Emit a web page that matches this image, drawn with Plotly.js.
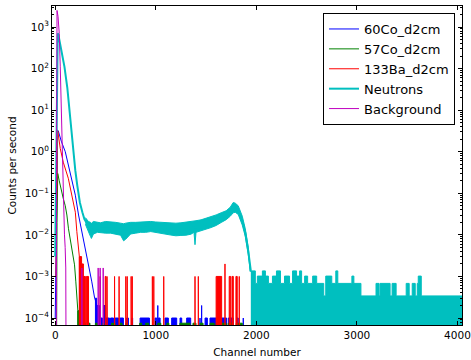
<!DOCTYPE html>
<html><head><meta charset="utf-8">
<script src="https://cdn.plot.ly/plotly-3.0.1.min.js"></script>
<style>html,body{margin:0;padding:0;background:#fff}#chart{width:471px;height:360px}</style>
</head><body><div id="chart"></div>
<script>
// ---------- data (channel, counts per second) ----------
// 60Co_d2cm
const co60Ch   = [0, 8, 16, 24, 30, 60, 100, 150, 200, 232, 265, 298, 331, 364, 390, 414, 428];
const co60Rate = [1e-4, 0.01, 0.5, 3.3, 3.2, 1.8, 1.0, 0.32, 0.09, 0.03, 0.012, 0.0049, 0.0021, 0.00074, 0.00032, 0.0002, 0];
const co60RunStart = [400, 415, 440, 480, 505, 550, 596, 645, 711, 760, 844, 993, 1020, 1026, 1092, 1158, 1241, 1307, 1440, 1456, 1490, 1539, 1622, 1655, 1721, 1804, 1870];
const co60RunEnd   = [412, 440, 470, 500, 540, 580, 629, 678, 728, 770, 937, 1010, 1020, 1043, 1125, 1208, 1258, 1347, 1440, 1456, 1513, 1599, 1638, 1704, 1771, 1820, 1870];
const co60RunRate  = [3e-4, 2e-4, 1e-4, 2e-4, 1e-4, 1e-4, 1e-4, 1e-4, 1e-4, 1e-4, 1e-4, 1e-4, 2e-4, 1e-4, 1e-4, 1e-4, 1e-4, 1e-4, 1e-4, 2e-4, 1e-4, 1e-4, 1e-4, 1e-4, 1e-4, 1e-4, 1e-4];

// 57Co_d2cm
const co57Ch   = [0, 10, 18, 25, 40, 60, 80, 100, 116, 132, 165, 192, 205, 215, 225, 232];
const co57Rate = [0, 0, 0.02, 0.3, 0.2, 0.11, 0.075, 0.05, 0.03, 0.014, 0.0049, 0.0019, 0.00074, 0.00032, 0.00015, 0];
const co57RunStart = [225, 255, 330, 400, 470, 560, 645, 700, 840, 900, 1020, 1110, 1240, 1370, 1440, 1540, 1600, 1650, 1720, 1800];
const co57RunEnd   = [250, 300, 345, 420, 485, 595, 665, 720, 860, 930, 1050, 1130, 1340, 1400, 1470, 1580, 1620, 1700, 1760, 1860];
const co57RunRate  = [1.5e-4, 7.5e-5, 7.5e-5, 7.5e-5, 7.5e-5, 7.5e-5, 7.5e-5, 7.5e-5, 7.5e-5, 7.5e-5, 7.5e-5, 7.5e-5, 7.5e-5, 7.5e-5, 7.5e-5, 7.5e-5, 7.5e-5, 7.5e-5, 7.5e-5, 7.5e-5];

// 133Ba_d2cm
const ba133Ch   = [0, 8, 14, 18, 25, 50, 80, 130, 165, 200, 215, 230, 240, 242];
const ba133Rate = [1e-3, 1e-3, 0.05, 1, 3.2, 1.2, 0.56, 0.23, 0.09, 0.035, 0.012, 0.0049, 0.003, 0];
const ba133RunStart = [240, 265, 283, 310, 447, 497, 515, 590, 635, 702, 716, 755, 766, 966, 980, 1079, 1390, 1423, 1600, 1688, 1730, 1758, 1797, 1830];
const ba133RunEnd   = [262, 280, 300, 331, 452, 505, 520, 592, 637, 704, 718, 758, 768, 969, 983, 1081, 1392, 1425, 1655, 1690, 1745, 1771, 1810, 1832];
const ba133RunRate  = [3e-3, 2e-3, 1e-3, 1e-3, 1e-3, 1e-3, 1e-3, 1e-3, 1e-3, 1e-3, 1e-3, 1e-3, 1e-3, 1e-3, 1e-3, 1e-3, 1e-3, 1e-3, 1e-3, 2e-3, 1e-3, 1e-3, 1e-3, 1e-3];

// Neutrons
const nCh   = [0, 4, 8, 12, 16, 20, 25, 30, 40, 60, 92, 120, 142, 160, 175, 200, 220, 245, 270, 290, 320, 350, 450, 550, 650, 700, 800, 900, 1000, 1100, 1200, 1300, 1400, 1500, 1600, 1700, 1770, 1820, 1860, 1890, 1920, 1945];
const nRate = [0.003, 0.02, 0.5, 20, 150, 450, 700, 680, 500, 250, 110, 35, 10, 3, 1.2, 0.35, 0.15, 0.06, 0.035, 0.024, 0.018, 0.0135, 0.0145, 0.0145, 0.0132, 0.0117, 0.014, 0.0148, 0.0146, 0.0138, 0.0129, 0.0133, 0.0151, 0.0178, 0.0219, 0.0292, 0.0447, 0.039, 0.0216, 0.0112, 0.004, 0.00136];
// spread of the noisy neutron plateau (upper / lower edge)
const nBandCh = [300, 330, 350, 360, 380, 420, 450, 500, 550, 600, 650, 680, 700, 750, 800, 850, 900, 950, 1000, 1050, 1100, 1150, 1200, 1250, 1300, 1350, 1380, 1390, 1400, 1450, 1500, 1550, 1600, 1650, 1700, 1740, 1770, 1790, 1820, 1860, 1890, 1920, 1940];
const nBandHi = [0.026, 0.021, 0.020, 0.019, 0.021, 0.020, 0.0195, 0.021, 0.0209, 0.020, 0.0191, 0.0185, 0.0191, 0.020, 0.020, 0.0205, 0.0209, 0.021, 0.0204, 0.020, 0.020, 0.0195, 0.0191, 0.0195, 0.020, 0.0205, 0.0215, 0.0215, 0.0219, 0.023, 0.0251, 0.027, 0.0302, 0.034, 0.038, 0.046, 0.060, 0.058, 0.050, 0.0282, 0.0141, 0.0050, 0.0018];
const nBandLo = [0.018, 0.012, 0.0092, 0.0082, 0.0105, 0.0115, 0.0115, 0.011, 0.011, 0.0105, 0.0098, 0.0072, 0.0078, 0.0105, 0.011, 0.0115, 0.0115, 0.012, 0.0115, 0.0108, 0.0104, 0.0099, 0.0095, 0.0097, 0.0098, 0.0104, 0.0115, 0.0058, 0.0115, 0.0125, 0.0136, 0.015, 0.0168, 0.0198, 0.0232, 0.028, 0.034, 0.035, 0.031, 0.0172, 0.0092, 0.0033, 0.0013];
// high-channel tail (step levels, each starting at the channel given)
const nTailCh   = [1945, 1990, 2010, 2060, 2090, 2120, 2160, 2200, 2240, 2280, 2330, 2360, 2400, 2430, 2450, 2480, 2510, 2560, 2600, 2670, 2690, 2750, 2790, 2810, 2950, 2970, 3040, 3190, 3220, 3230, 3330, 3350, 3390, 3490, 3520, 3550, 3580, 3600, 3610, 3640, 4095];
const nTailRate = [1.36e-3, 6.8e-4, 1.02e-3, 1.36e-3, 1.02e-3, 6.8e-4, 1.02e-3, 1.36e-3, 6.8e-4, 1.02e-3, 6.8e-4, 1.36e-3, 1.02e-3, 1.36e-3, 6.8e-4, 1.02e-3, 6.8e-4, 1.02e-3, 6.8e-4, 3.4e-4, 1.02e-3, 6.8e-4, 1.36e-3, 6.8e-4, 1.02e-3, 6.8e-4, 3.4e-4, 6.8e-4, 3.4e-4, 6.8e-4, 3.4e-4, 6.8e-4, 3.4e-4, 6.8e-4, 3.4e-4, 6.8e-4, 3.4e-4, 6.8e-4, 1.02e-3, 3.4e-4, 3.4e-4];

// Background
const bgCh   = [0, 10, 13, 15, 18, 28, 40, 50, 60, 66, 74, 82, 92, 99, 105, 110];
const bgRate = [0, 0, 0.5, 100, 2500, 1800, 700, 110, 10, 2, 0.3, 0.03, 0.01, 0.005, 0.0016, 0];
const bgRunStart = [265, 427, 447, 477];
const bgRunEnd   = [270, 432, 450, 480];
const bgRunRate  = [1.6e-3, 1.6e-3, 1.6e-3, 1.6e-3];

// axis ticks
const xTickVals = [0, 1000, 2000, 3000, 4000];
const xTickText = ['0', '1000', '2000', '3000', '4000'];
const yTickVals = [1e-4, 1e-3, 1e-2, 1e-1, 1e0, 1e1, 1e2, 1e3];
const yTickText = ['10<sup>\u22124</sup>', '10<sup>\u22123</sup>', '10<sup>\u22122</sup>', '10<sup>\u22121</sup>', '10<sup>0</sup>', '10<sup>1</sup>', '10<sup>2</sup>', '10<sup>3</sup>'];

// ---------- drawing ----------
const FLOOR = 1e-7; // zero counts: drawn below the bottom of the log axis
const curveY = a => a.map(v => v > 0 ? v : FLOOR);
function runs(s, e, r) {
  const x = [], y = [];
  for (let i = 0; i < s.length; i++) {
    x.push(s[i], s[i], e[i], e[i], null);
    y.push(FLOOR, r[i], r[i], FLOOR, null);
  }
  return {x, y};
}
function lineTrace(name, x, y, color, w) {
  return {type: 'scatter', mode: 'lines', name, x, y: curveY(y),
          line: {color, width: w}, hoverinfo: 'skip'};
}
function runTrace(rr, color) {
  return {type: 'scatter', mode: 'lines', x: rr.x, y: rr.y, fill: 'toself', fillcolor: color,
          line: {color, width: 1}, showlegend: false, hoverinfo: 'skip'};
}
const BLUE = '#0000ff', GREEN = '#008000', RED = '#ff0000', CYAN = '#00bfbf', MAG = '#bf00bf';

// neutron band polygon
const bandX = nBandCh.concat(nBandCh.slice().reverse());
const bandY = nBandHi.concat(nBandLo.slice().reverse());
// neutron tail step polygon
const tx = [], ty = [];
for (let i = 0; i < nTailCh.length - 1; i++) {
  tx.push(nTailCh[i], nTailCh[i + 1]);
  ty.push(nTailRate[i], nTailRate[i]);
}
tx.push(nTailCh[nTailCh.length - 1], nTailCh[0]);
ty.push(FLOOR, FLOOR);

const data = [
  lineTrace('60Co_d2cm', co60Ch, co60Rate, BLUE, 1),
  runTrace(runs(co60RunStart, co60RunEnd, co60RunRate), BLUE),
  lineTrace('57Co_d2cm', co57Ch, co57Rate, GREEN, 1),
  runTrace(runs(co57RunStart, co57RunEnd, co57RunRate), GREEN),
  lineTrace('133Ba_d2cm', ba133Ch, ba133Rate, RED, 1),
  runTrace(runs(ba133RunStart, ba133RunEnd, ba133RunRate), RED),
  {type: 'scatter', mode: 'lines', x: bandX, y: bandY, fill: 'toself', fillcolor: CYAN,
   line: {color: CYAN, width: 1}, showlegend: false, hoverinfo: 'skip'},
  lineTrace('Neutrons', nCh, nRate, CYAN, 2),
  {type: 'scatter', mode: 'lines', x: tx, y: ty, fill: 'toself', fillcolor: CYAN,
   line: {color: CYAN, width: 1}, showlegend: false, hoverinfo: 'skip'},
  lineTrace('Background', bgCh, bgRate, MAG, 1),
  runTrace(runs(bgRunStart, bgRunEnd, bgRunRate), MAG)
];

const minorVals = [];
for (let d = -5; d <= 3; d++) for (let k = 2; k <= 9; k++) minorVals.push(k * Math.pow(10, d));

const layout = {
  width: 471, height: 360,
  margin: {l: 52, r: 9, t: 6, b: 35},
  paper_bgcolor: '#ffffff', plot_bgcolor: '#ffffff',
  font: {family: 'DejaVu Sans', size: 10.5, color: '#000000'},
  showlegend: true,
  legend: {x: 0.983, xanchor: 'right', y: 0.978, yanchor: 'top', bgcolor: '#ffffff',
           bordercolor: '#000000', borderwidth: 1, font: {size: 13, family: 'DejaVu Sans'}},
  xaxis: {range: [-32, 4045], tickmode: 'array', tickvals: xTickVals, ticktext: xTickText,
          ticks: 'inside', ticklen: 4, tickcolor: '#000', showline: true, linecolor: '#000', linewidth: 1,
          mirror: 'ticks', showgrid: false, zeroline: false,
          title: {text: 'Channel number', font: {size: 10.5}, standoff: 9}},
  yaxis: {type: 'log', range: [-4.168, 3.505], tickmode: 'array', tickvals: yTickVals, ticktext: yTickText,
          ticks: 'inside', ticklen: 4, tickcolor: '#000', showline: true, linecolor: '#000', linewidth: 1,
          mirror: 'ticks', showgrid: false, zeroline: false,
          minor: {tickmode: 'array', tickvals: minorVals, ticks: 'inside', ticklen: 2, tickcolor: '#000', showgrid: false},
          title: {text: 'Counts per second', font: {size: 10.5}, standoff: 6}}
};

Plotly.newPlot('chart', data, layout, {displayModeBar: false, staticPlot: true});
</script>
</body></html>
